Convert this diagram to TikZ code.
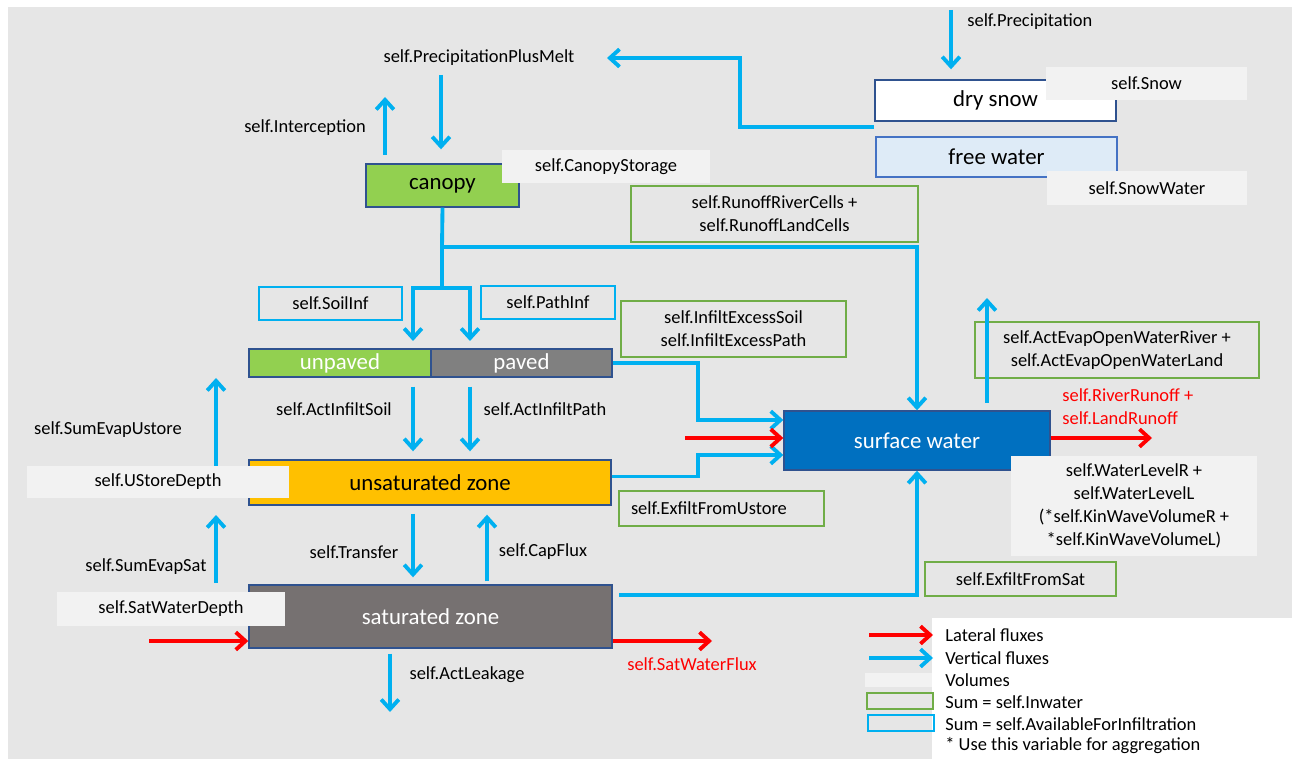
\documentclass[tikz,border=0pt]{standalone}
\usepackage{fontspec}
\setmainfont{Carlito}
\usetikzlibrary{arrows.meta}

\definecolor{bggray}{HTML}{E6E6E6}
\definecolor{volgray}{HTML}{F2F2F2}
\definecolor{fluxblue}{HTML}{00B0F0}
\definecolor{latred}{HTML}{FF0000}
\definecolor{sumgreen}{HTML}{70AD47}
\definecolor{edgeblue}{HTML}{2F528F}
\definecolor{leaf}{HTML}{92D050}
\definecolor{road}{HTML}{808080}
\definecolor{soil}{HTML}{FFC000}
\definecolor{rock}{HTML}{767171}
\definecolor{river}{HTML}{0070C0}
\definecolor{meltblue}{HTML}{DEEBF7}
\definecolor{meltedge}{HTML}{4472C4}

\newcommand{\labfont}{\fontsize{10.5}{13.2}\selectfont}
\newcommand{\boxfont}{\fontsize{13}{15}\selectfont}

\begin{document}
\begin{tikzpicture}[x=0.02cm,y=-0.02cm,
  sz/.style 2 args={minimum width=#1*0.02cm,minimum height=#2*0.02cm},
  box/.style={draw=edgeblue,line width=0.8pt,inner sep=0pt,font=\boxfont},
  vol/.style={fill=volgray,inner sep=0pt,font=\labfont,align=center},
  inw/.style={draw=sumgreen,line width=0.8pt,inner sep=0pt,font=\labfont,align=center},
  avl/.style={draw=fluxblue,line width=0.8pt,inner sep=0pt,font=\labfont},
  lab/.style={inner sep=0pt,font=\labfont},
  flux/.style={fluxblue,line width=2.2pt,-{Straight Barb[length=5.5pt,width=10pt]}},
  latf/.style={latred,line width=2.2pt,-{Straight Barb[length=5.5pt,width=10pt]}}]
\useasboundingbox (0,0) rectangle (1293,759);
\fill[bggray] (8,7) rectangle (1292,759);
\fill[white] (932,618) rectangle (1293,759);

\node[box,fill=white,sz={241}{41}] (DS) at (995.5,100.5) {dry snow};
\node[box,draw=meltedge,fill=meltblue,sz={241}{40}] (FW) at (996.5,157) {free water};
\node[box,fill=leaf,sz={153}{43}] (CAN) at (442.5,185.5) {canopy};
\node[box,fill=leaf,text=white,sz={182}{28}] (UNP) at (340,363) {unpaved};
\node[box,fill=road,text=white,sz={181}{28}] (PAV) at (521.5,363) {paved};
\node[box,fill=soil,sz={362}{45}] (UZ) at (430,482.5) {unsaturated zone};
\node[box,fill=rock,text=white,sz={363}{63}] (SZ) at (430.5,616.5) {saturated zone};
\node[box,fill=river,text=white,sz={266}{59}] (SW) at (917,440.5) {surface water};

\node[vol,sz={201}{33}] (SNOW) at (1146.5,83.5) {self.Snow};
\node[vol,sz={200}{34}] (SNOWW) at (1147,188) {self.SnowWater};
\node[vol,sz={208}{33}] (CANS) at (606,166.5) {self.CanopyStorage};
\node[vol,sz={262}{32}] (USD) at (158,482) {self.UStoreDepth};
\node[vol,sz={228}{34}] (SWD) at (171,609) {self.SatWaterDepth};
\node[vol,sz={246}{100}] (WL) at (1134,506) {self.WaterLevelR +\\self.WaterLevelL\\(*self.KinWaveVolumeR +\\*self.KinWaveVolumeL)};

\node[inw,sz={287}{56}] (ROC) at (774.5,214) {self.RunoffRiverCells +\\self.RunoffLandCells};
\node[inw,sz={225}{56}] (IEX) at (733.5,329) {self.InfiltExcessSoil\\self.InfiltExcessPath};
\node[inw,sz={284}{56}] (EOW) at (1117,350) {self.ActEvapOpenWaterRiver +\\self.ActEvapOpenWaterLand};
\node[inw,sz={205}{35},text width=3.62cm,align=left] (EXU) at (721.5,508.5) {self.ExfiltFromUstore};
\node[inw,sz={191}{34}] (EXS) at (1020.5,579) {self.ExfiltFromSat};
\node[avl,sz={143}{33}] (SINF) at (330.5,303.5) {self.SoilInf};
\node[avl,sz={134}{33}] (PINF) at (548,302.5) {self.PathInf};

\node[lab,anchor=west] (PRE) at (967,22) {self.Precipitation};
\node[lab] (PPM) at (479,58) {self.PrecipitationPlusMelt};
\node[lab] (INT) at (305,128) {self.Interception};
\node[lab] (AIS) at (334,409) {self.ActInfiltSoil};
\node[lab] (AIP) at (545,409) {self.ActInfiltPath};
\node[lab] (SEU) at (108,430) {self.SumEvapUstore};
\node[lab] (TRA) at (354,552) {self.Transfer};
\node[lab] (CAP) at (543,552) {self.CapFlux};
\node[lab] (SES) at (146,567) {self.SumEvapSat};
\node[lab] (LEA) at (467,675) {self.ActLeakage};
\node[lab,text=latred,align=left,anchor=west] (RUN) at (1062,407) {self.RiverRunoff +\\self.LandRunoff};
\node[lab,text=latred] (SWF) at (692,664) {self.SatWaterFlux};

\coordinate (P0) at (951,10);
\coordinate (M0) at (874,127);
\coordinate (M1) at (607,58);
\coordinate (R0) at (441,75);
\coordinate (I0) at (385,155);
\coordinate (I1) at (385,97);
\coordinate (J0) at (442,247);
\coordinate (J1) at (442,288);
\coordinate (S1) at (413,341);
\coordinate (P1) at (470,341);
\coordinate (B1) at (698,420);
\coordinate (B2) at (698,455);
\coordinate (G0) at (619,595);
\coordinate (L0) at (685,438);
\coordinate (L1) at (1152,438);
\coordinate (E0) at (987,403);
\coordinate (E1) at (987,298);
\coordinate (U1) at (216,378);
\coordinate (T1) at (216,515);
\coordinate (C0) at (487,0);
\coordinate (K1) at (390,712);
\coordinate (Q0) at (149,641);
\coordinate (Q1) at (712,641);

\draw[flux,shorten >=0.2cm] (P0) -- (P0 |- DS.north);
\draw[flux] (M0) -- (740,127) -- (740,58) -- (M1);
\draw[flux,shorten >=0.28cm] (R0) -- (R0 |- CAN.north);
\draw[flux] (I0) -- (I1);
\draw[flux] (CAN.south) -- (J0) -| (SW.north);
\draw[flux] (J0) -- (J1) -| (S1);
\draw[flux] (J1) -| (P1);
\draw[flux] (PAV.east) -| (B1) -- (B1 -| SW.west);
\draw[flux] ([yshift=0.12cm]UZ.east) -| (B2) -- (B2 -| SW.west);
\draw[flux] (G0) -| (SW.south);
\draw[latf] (L0) -- (L0 -| SW.west);
\draw[latf] (L1 -| SW.east) -- (L1);
\draw[flux] (E0) -- (E1);
\draw[flux,shorten <=0.18cm,shorten >=0.16cm] (UNP.south -| S1) -- (UZ.north -| S1);
\draw[flux,shorten <=0.18cm,shorten >=0.16cm] (PAV.south -| P1) -- (UZ.north -| P1);
\draw[flux,shorten <=0.16cm,shorten >=0.14cm] (UZ.south -| S1) -- (SZ.north -| S1);
\draw[flux,shorten <=0.06cm,shorten >=0.18cm] (SZ.north -| C0) -- (UZ.south -| C0);
\draw[flux] (USD.north -| U1) -- (U1);
\draw[flux,shorten <=0.18cm] (SWD.north -| T1) -- (T1);
\draw[flux,shorten <=0.1cm] (SZ.south -| K1) -- (K1);
\draw[latf] (Q0) -- (Q0 -| SZ.west);
\draw[latf] (Q0 -| SZ.east) -- (Q1);

\node[lab,anchor=west] (LG1) at (945,635) {Lateral fluxes};
\node[lab,anchor=west] (LG2) at (945,658) {Vertical fluxes};
\node[lab,anchor=west] (LG3) at (945,680) {Volumes};
\node[lab,anchor=west] (LG4) at (945,702) {Sum = self.Inwater};
\node[lab,anchor=west] (LG5) at (945,724) {Sum = self.AvailableForInfiltration};
\node[lab,anchor=west] (LG6) at (945,746) {* Use this variable for aggregation};
\coordinate (LX) at (869,0);
\draw[latf,shorten >=0.24cm] (LG1.west -| LX) -- (LG1.west);
\draw[flux,shorten >=0.24cm] (LG2.west -| LX) -- (LG2.west);
\node[vol,sz={67}{14}] (LV3) at (898.5,680) {};
\node[inw,sz={66}{16}] (LV4) at (900,701) {};
\node[avl,sz={66}{16}] (LV5) at (901,723) {};
\end{tikzpicture}
\end{document}
